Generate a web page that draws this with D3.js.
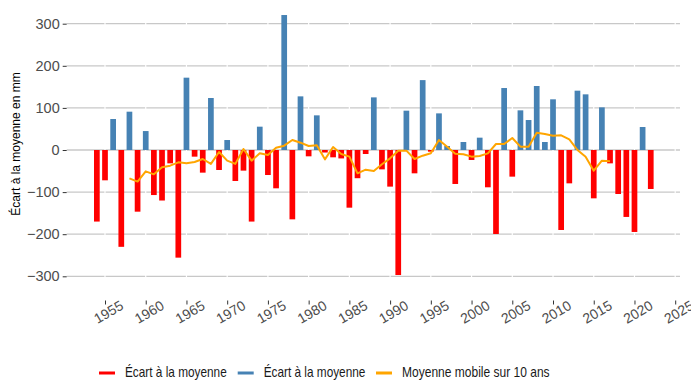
<!DOCTYPE html>
<html>
<head>
<meta charset="utf-8">
<script src="https://cdn.jsdelivr.net/npm/d3@7"></script>
<style>
  html, body { margin: 0; padding: 0; background: #ffffff; }
  svg { display: block; font-family: "Liberation Sans", Arial, Helvetica, sans-serif; }
</style>
</head>
<body>
<svg id="chart" width="691" height="380"></svg>
<script>
// ---------- data ----------
const years = [1954,1955,1956,1957,1958,1959,1960,1961,1962,1963,1964,1965,1966,1967,1968,1969,
  1970,1971,1972,1973,1974,1975,1976,1977,1978,1979,1980,1981,1982,1983,1984,1985,1986,1987,1988,
  1989,1990,1991,1992,1993,1994,1995,1996,1997,1998,1999,2000,2001,2002,2003,2004,2005,2006,2007,
  2008,2009,2010,2011,2012,2013,2014,2015,2016,2017,2018,2019,2020,2021,2022];
const ecart = [-170,-72,73.6,-230,91,-146.5,45,-107,-120,-31.7,-255.7,171.8,-15.8,-53.8,123.5,-47.5,
  23.7,-73.6,-49,-170,55.4,-59.4,-91,320.6,-164.7,127.4,-15,82.3,-6,-17.4,-20,-137,-67,-9.5,125,
  -46,-87,-297,93.4,-55.4,166,-4,87,9.5,-80.7,19,-23.7,29.3,-88.6,-199.5,147.2,-63.3,94.2,71.2,
  152,19,120.4,-190,-79.2,140.9,132.2,-114.8,101.3,-31.7,-104.5,-159,-194.7,54.6,-92.6];
const maYears = [1958,1959,1960,1961,1962,1963,1964,1965,1966,1967,1968,1969,1970,1971,1972,1973,
  1974,1975,1976,1977,1978,1979,1980,1981,1982,1983,1984,1985,1986,1987,1988,1989,1990,1991,1992,
  1993,1994,1995,1996,1997,1998,1999,2000,2001,2002,2003,2004,2005,2006,2007,2008,2009,2010,2011,
  2012,2013,2014,2015,2016,2017];
const maValues = [-67.3,-75,-50.7,-57.8,-41.2,-37.2,-29.3,-31.7,-28.5,-21.4,-33,-4.8,-25.3,-33,2.4,
  -25.3,-7.9,-11.9,5.5,10.3,23.7,17.4,9.5,11,-22.2,7.1,-9.5,-15.8,-55.4,-46.7,-49.9,-34,-19.8,-1.6,
  -1.6,-21.4,-13.5,-7.9,23.7,7.9,-9,-10.3,-15.8,-14.2,-7.9,14.2,14.2,28.5,7.9,7.9,41.2,38,34,34.8,
  25.3,0,-15.8,-49,-25.3,-26.9];
const xTicks = [1955,1960,1965,1970,1975,1980,1985,1990,1995,2000,2005,2010,2015,2020,2025];
const yTicks = [-300,-200,-100,0,100,200,300];
const legendLabels = ["Écart à la moyenne","Écart à la moyenne","Moyenne mobile sur 10 ans"];
const colors = { neg: "#ff0000", pos: "#4682b4", ma: "#ffa500" };

// ---------- layout ----------
const svg = d3.select("#chart");
const panel = { left: 66.7, right: 680, top: 8, bottom: 300.5 };

const x = d3.scaleLinear().domain([1955, 2025]).range([105, 675.2]);
const y = d3.scaleLinear().domain([-300, 300]).range([276.3, 23.7]);
const step = x(1956) - x(1955);
const barW = step * 0.7;

// horizontal gridlines
svg.append("g").selectAll("line").data(yTicks).join("line")
  .attr("x1", panel.left).attr("x2", panel.right)
  .attr("y1", d => y(d)).attr("y2", d => y(d))
  .attr("stroke", "#c8c8c8").attr("stroke-width", 1.3);

// white vertical separators at x ticks
svg.append("g").selectAll("line").data(xTicks).join("line")
  .attr("x1", d => x(d)).attr("x2", d => x(d))
  .attr("y1", panel.top).attr("y2", panel.bottom)
  .attr("stroke", "#ffffff").attr("stroke-width", 1.2);

// bars
svg.append("g").selectAll("rect").data(years.map((yr, i) => ({ yr, v: ecart[i] }))).join("rect")
  .attr("x", d => x(d.yr) - barW / 2)
  .attr("width", barW)
  .attr("y", d => Math.min(y(d.v), y(0)))
  .attr("height", d => Math.abs(y(d.v) - y(0)))
  .attr("fill", d => d.v < 0 ? colors.neg : colors.pos);

// moving average line
const line = d3.line().x(d => x(d[0])).y(d => y(d[1]));
svg.append("path")
  .datum(maYears.map((yr, i) => [yr, maValues[i]]))
  .attr("d", line)
  .attr("fill", "none")
  .attr("stroke", colors.ma)
  .attr("stroke-width", 2)
  .attr("stroke-linejoin", "round");

// y axis
const yAxis = svg.append("g")
  .attr("transform", `translate(${panel.left},0)`)
  .call(d3.axisLeft(y).tickValues(yTicks).tickSize(4).tickPadding(3));
yAxis.select(".domain").remove();
yAxis.selectAll(".tick line").attr("stroke", "#333333");
yAxis.selectAll(".tick text").attr("fill", "#4d4d4d").style("font-size", "14.5px");

// x axis
const xAxis = svg.append("g")
  .attr("transform", `translate(0,${panel.bottom})`)
  .call(d3.axisBottom(x).tickValues(xTicks).tickSize(4).tickFormat(d3.format("d")));
xAxis.select(".domain").remove();
xAxis.selectAll(".tick line").attr("stroke", "#333333");
xAxis.selectAll(".tick text")
  .attr("fill", "#4d4d4d")
  .style("font-size", "14px")
  .attr("text-anchor", "middle")
  .attr("y", 0).attr("dy", "0.35em")
  .attr("transform", "translate(3,11.5) rotate(-30)");

// y axis title
svg.append("text")
  .attr("transform", "translate(15.5,144) rotate(-90)")
  .attr("text-anchor", "middle")
  .attr("dominant-baseline", "central")
  .attr("fill", "#000000")
  .style("font-size", "12px")
  .text("Écart à la moyenne en mm");

// legend
const legendItems = [
  { label: legendLabels[0], color: colors.neg, x0: 99, w: 101.7 },
  { label: legendLabels[1], color: colors.pos, x0: 237.7, w: 101.7 },
  { label: legendLabels[2], color: colors.ma, x0: 376, w: 147.6 }
];
const lg = svg.append("g").selectAll("g").data(legendItems).join("g");
lg.append("line")
  .attr("x1", d => d.x0).attr("x2", d => d.x0 + 16)
  .attr("y1", 373).attr("y2", 373)
  .attr("stroke", d => d.color).attr("stroke-width", 3);
lg.append("text")
  .attr("x", d => d.x0 + 26).attr("y", 372)
  .attr("dominant-baseline", "central")
  .attr("fill", "#1a1a1a")
  .style("font-size", "14.5px")
  .attr("textLength", d => d.w)
  .attr("lengthAdjust", "spacingAndGlyphs")
  .text(d => d.label);
</script>
</body>
</html>
